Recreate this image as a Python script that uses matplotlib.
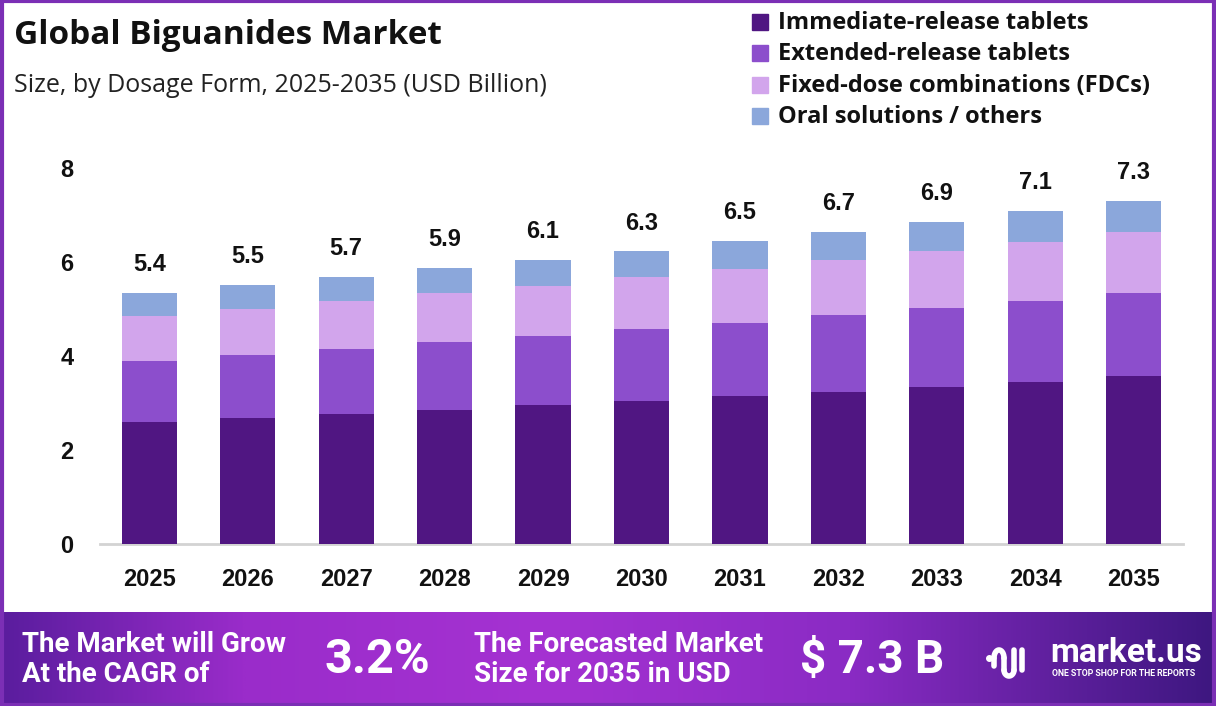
import matplotlib
matplotlib.use("Agg")
import matplotlib.pyplot as plt
import numpy as np
from matplotlib.patches import Rectangle
from matplotlib.colors import LinearSegmentedColormap

years = ["2025", "2026", "2027", "2028", "2029", "2030", "2031", "2032", "2033", "2034", "2035"]
immediate_release = [2.60, 2.69, 2.77, 2.85, 2.96, 3.04, 3.15, 3.23, 3.35, 3.45, 3.58]
extended_release = [1.30, 1.34, 1.38, 1.45, 1.47, 1.53, 1.55, 1.64, 1.68, 1.73, 1.76]
fixed_dose = [0.96, 0.97, 1.02, 1.03, 1.06, 1.11, 1.15, 1.17, 1.20, 1.25, 1.30]
oral_solutions = [0.49, 0.51, 0.52, 0.54, 0.55, 0.55, 0.60, 0.60, 0.62, 0.66, 0.66]
total_labels = ["5.4", "5.5", "5.7", "5.9", "6.1", "6.3", "6.5", "6.7", "6.9", "7.1", "7.3"]
series_names = ["Immediate-release tablets", "Extended-release tablets",
                "Fixed-dose combinations (FDCs)", "Oral solutions / others"]
colors = ["#501682", "#8C4ECC", "#D2A5EC", "#8BA7DB"]
yticks = [0, 2, 4, 6, 8]

W, H = 1216, 706
fig = plt.figure(figsize=(W / 100, H / 100), dpi=100)
fig.patch.set_facecolor("white")

def fx(px):
    return px / W

def fy(py):
    return 1 - py / H

# main axes
ax = fig.add_axes([fx(100), fy(544), fx(1183) - fx(100), fy(168) - fy(544)])
x = np.arange(len(years))
series = [immediate_release, extended_release, fixed_dose, oral_solutions]
bottom = np.zeros(len(years))
for vals, c, name in zip(series, colors, series_names):
    ax.bar(x, vals, bottom=bottom, width=0.56, color=c, label=name, zorder=3)
    bottom += np.array(vals)

for xi, tot, lab in zip(x, bottom, total_labels):
    ax.annotate(lab, (xi, tot), xytext=(0, 12), textcoords="offset points",
                ha="center", va="bottom", fontsize=17, fontweight="bold",
                family="Liberation Sans", color="#111111", annotation_clip=False)

ax.set_xlim(-0.5, 10.5)
ax.set_ylim(0, 8)
ax.set_xticks(x)
ax.set_xticklabels(years)
ax.set_yticks(yticks)
ax.set_yticklabels([str(v) for v in yticks])
for lab in ax.get_xticklabels() + ax.get_yticklabels():
    lab.set_fontsize(17)
    lab.set_fontweight("bold")
    lab.set_family("Liberation Sans")
    lab.set_color("#111111")
ax.tick_params(axis="x", length=0, pad=17)
ax.tick_params(axis="y", length=0, pad=19)
for s in ["top", "right", "left"]:
    ax.spines[s].set_visible(False)
ax.spines["bottom"].set_color("#d3d3d3")
ax.spines["bottom"].set_linewidth(2)
ax.set_facecolor("none")

# title & subtitle
fig.text(fx(14), fy(35), "Global Biguanides Market", fontsize=24, fontweight="bold",
         family="Open Sans", color="#111111", va="center", ha="left")
fig.text(fx(14), fy(85), "Size, by Dosage Form, 2025-2035 (USD Billion)", fontsize=18,
         family="Open Sans", color="#222222", va="center", ha="left")

# legend
leg_y = [21, 52, 84, 115]
for yy, c, name in zip(leg_y, colors, series_names):
    fig.patches.append(Rectangle((fx(752), fy(yy + 9)), fx(16), 16 / H, transform=fig.transFigure,
                                 color=c, figure=fig))
    fig.text(fx(778), fy(yy + 2), name, fontsize=17, fontweight="bold", family="Open Sans",
             color="#111111", va="center", ha="left")

# footer gradient
fax = fig.add_axes([0, 0, 1, fy(612)])
cmap = LinearSegmentedColormap.from_list("ft", [(0, "#5a1d9e"), (0.2, "#9a2cca"), (0.45, "#a532d2"),
                                                (0.7, "#8a2bc4"), (1.0, "#3d1780")])
grad = np.linspace(0, 1, 512).reshape(1, -1)
fax.imshow(grad, aspect="auto", cmap=cmap, extent=[0, 1, 0, 1])
fax.set_xlim(0, 1)
fax.set_ylim(0, 1)
fax.axis("off")

ffam = ["Liberation Sans Narrow", "Roboto"]
fig.text(fx(22), fy(645), "The Market will Grow", fontsize=20, fontweight="bold", family=ffam,
         color="white", va="center", ha="left")
fig.text(fx(22), fy(675), "At the CAGR of", fontsize=20, fontweight="bold", family=ffam,
         color="white", va="center", ha="left")
fig.text(fx(325), fy(660), "3.2%", fontsize=35, fontweight="bold", family=ffam,
         color="white", va="center", ha="left")
fig.text(fx(474), fy(645), "The Forecasted Market", fontsize=20, fontweight="bold", family=ffam,
         color="white", va="center", ha="left")
fig.text(fx(474), fy(675), "Size for 2035 in USD", fontsize=20, fontweight="bold", family=ffam,
         color="white", va="center", ha="left")
fig.text(fx(800), fy(660), "$ 7.3 B", fontsize=33, fontweight="bold", family=ffam,
         color="white", va="center", ha="left")

# logo
fig.text(fx(1050), fy(653), "market.us", fontsize=24, fontweight="bold", family="Roboto",
         color="white", va="center", ha="left")
fig.text(fx(1052), fy(673), "ONE STOP SHOP FOR THE REPORTS", fontsize=6.3, fontweight="bold",
         family="Roboto", color="white", va="center", ha="left")
lax = fig.add_axes([fx(985), fy(680), fx(1045) - fx(985), fy(640) - fy(680)])
lax.set_xlim(0, 60)
lax.set_ylim(0, 40)
lax.axis("off")
lax.plot([4], [22], "o", color="white", ms=4)
t = np.linspace(np.pi, 0, 40)
lax.plot(14 + 5 * np.cos(t), 22 + 8 * np.sin(t), color="white", lw=4, solid_capstyle="round")
lax.plot([9, 9], [22, 14], color="white", lw=4, solid_capstyle="round")
lax.plot([19, 19], [22, 10], color="white", lw=4, solid_capstyle="round")
lax.plot(24 + 5 * np.cos(-t), 10 + 6 * np.sin(-t), color="white", lw=4, solid_capstyle="round")
lax.plot([29, 29], [10, 30], color="white", lw=4, solid_capstyle="round")
lax.plot([37, 37], [10, 30], color="white", lw=4, solid_capstyle="round")

# border
fig.patches.append(Rectangle((0.0015, 0.002), 0.997, 0.996, transform=fig.transFigure,
                             fill=False, edgecolor="#7B2FB5", lw=3, figure=fig, zorder=10))

fig.savefig("out.png", dpi=100, facecolor=fig.get_facecolor())
